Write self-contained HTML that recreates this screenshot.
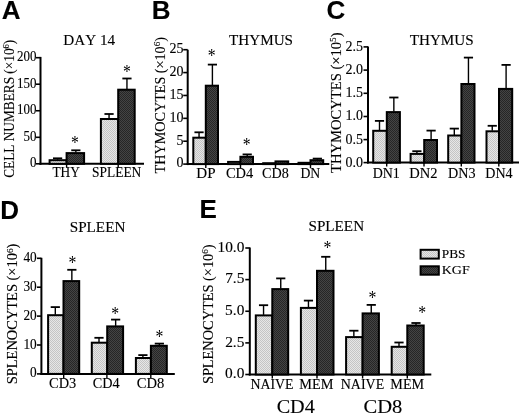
<!DOCTYPE html>
<html><head><meta charset="utf-8"><style>
html,body{margin:0;padding:0;background:#fff;width:520px;height:414px;overflow:hidden;font-family:"Liberation Serif",serif}
svg{display:block;will-change:transform}
text{stroke:#000;stroke-width:0.12px}
</style></head><body>
<svg width="520" height="414" viewBox="0 0 520 414" style="font-kerning:none">
<defs>
<pattern id="pl" width="2" height="2" patternUnits="userSpaceOnUse"><rect width="2" height="2" fill="#e6e6e6"/><rect width="1" height="1" fill="#c4c4c4"/><rect x="1" y="1" width="1" height="1" fill="#c4c4c4"/></pattern>
<pattern id="pd" width="2" height="2" patternUnits="userSpaceOnUse"><rect width="2" height="2" fill="#444444"/><rect width="1" height="1" fill="#262626"/><rect x="1" y="1" width="1" height="1" fill="#262626"/></pattern>
</defs>
<rect width="520" height="414" fill="#fff"/>
<text x="1.85" y="18.79" font-size="26" font-family='"Liberation Sans", sans-serif' font-weight="bold">A</text>
<text x="63.31" y="45.47" font-size="15.25" text-anchor="start" font-family='"Liberation Serif", serif' font-weight="normal" textLength="51.82" lengthAdjust="spacingAndGlyphs">DAY 14</text>
<line x1="40.5" y1="56.9" x2="40.5" y2="164.8" stroke="#000" stroke-width="2"/>
<line x1="36.0" y1="57.7" x2="40.5" y2="57.7" stroke="#000" stroke-width="1.6"/>
<text x="17.05" y="61.09" font-size="14" font-family='"Liberation Serif", serif' textLength="19.45" lengthAdjust="spacingAndGlyphs">200</text>
<line x1="36.0" y1="84.2" x2="40.5" y2="84.2" stroke="#000" stroke-width="1.6"/>
<text x="17.05" y="87.59" font-size="14" font-family='"Liberation Serif", serif' textLength="19.45" lengthAdjust="spacingAndGlyphs">150</text>
<line x1="36.0" y1="110.75" x2="40.5" y2="110.75" stroke="#000" stroke-width="1.6"/>
<text x="17.05" y="114.14" font-size="14" font-family='"Liberation Serif", serif' textLength="19.45" lengthAdjust="spacingAndGlyphs">100</text>
<line x1="36.0" y1="137.3" x2="40.5" y2="137.3" stroke="#000" stroke-width="1.6"/>
<text x="23.53" y="140.69" font-size="14" font-family='"Liberation Serif", serif' textLength="12.96" lengthAdjust="spacingAndGlyphs">50</text>
<line x1="36.0" y1="163.8" x2="40.5" y2="163.8" stroke="#000" stroke-width="1.6"/>
<text x="30.01" y="167.19" font-size="14" font-family='"Liberation Serif", serif' textLength="6.48" lengthAdjust="spacingAndGlyphs">0</text>
<line x1="39.5" y1="163.8" x2="144" y2="163.8" stroke="#000" stroke-width="2"/>
<line x1="66.6" y1="163.8" x2="66.6" y2="167.8" stroke="#000" stroke-width="1.4"/>
<line x1="118.2" y1="163.8" x2="118.2" y2="167.8" stroke="#000" stroke-width="1.4"/>
<line x1="57.599999999999994" y1="158.3" x2="57.599999999999994" y2="159.7" stroke="#000" stroke-width="1.4"/>
<line x1="52.99999999999999" y1="158.3" x2="62.199999999999996" y2="158.3" stroke="#000" stroke-width="1.8"/>
<line x1="75.85" y1="150.3" x2="75.85" y2="152.6" stroke="#000" stroke-width="1.4"/>
<line x1="71.25" y1="150.3" x2="80.44999999999999" y2="150.3" stroke="#000" stroke-width="1.8"/>
<rect x="49.6" y="160.2" width="17.00" height="3.60" fill="url(#pl)" stroke="#000" stroke-width="2"/>
<rect x="66.6" y="153.1" width="17.50" height="10.70" fill="url(#pd)" stroke="#000" stroke-width="2"/>
<line x1="109.05000000000001" y1="114" x2="109.05000000000001" y2="118.5" stroke="#000" stroke-width="1.4"/>
<line x1="104.45000000000002" y1="114" x2="113.65" y2="114" stroke="#000" stroke-width="1.8"/>
<line x1="126.94999999999999" y1="78.5" x2="126.94999999999999" y2="89.2" stroke="#000" stroke-width="1.4"/>
<line x1="122.35" y1="78.5" x2="131.54999999999998" y2="78.5" stroke="#000" stroke-width="1.8"/>
<rect x="100.9" y="119" width="17.30" height="44.80" fill="url(#pl)" stroke="#000" stroke-width="2"/>
<rect x="118.2" y="89.7" width="16.50" height="74.10" fill="url(#pd)" stroke="#000" stroke-width="2"/>
<text transform="translate(75.05,139.6) scale(0.9,1.06)" x="0" y="9.25" font-size="17.5" text-anchor="middle" font-family='"Liberation Serif", serif' style="stroke:none">*</text>
<text transform="translate(126.9,68.6) scale(0.9,1.06)" x="0" y="9.25" font-size="17.5" text-anchor="middle" font-family='"Liberation Serif", serif' style="stroke:none">*</text>
<text x="52.46" y="177.3" font-size="14.2" text-anchor="start" font-family='"Liberation Serif", serif' font-weight="normal" textLength="27.48" lengthAdjust="spacingAndGlyphs">THY</text>
<text x="92.1" y="177.16" font-size="13.84" text-anchor="start" font-family='"Liberation Serif", serif' font-weight="normal" textLength="49.21" lengthAdjust="spacingAndGlyphs">SPLEEN</text>
<text transform="translate(14.2,108.8) rotate(-90) scale(0.965,1)" x="0" y="0" font-size="13.8" text-anchor="middle" font-family='"Liberation Serif", serif'>CELL NUMBERS (&#215;10<tspan dy="-4.9" font-size="8.8">6</tspan><tspan dy="4.9">)</tspan></text>
<text x="151.66" y="19.39" font-size="26" font-family='"Liberation Sans", sans-serif' font-weight="bold">B</text>
<text x="229.03" y="44.86" font-size="14.59" text-anchor="start" font-family='"Liberation Serif", serif' font-weight="normal" textLength="64.01" lengthAdjust="spacingAndGlyphs">THYMUS</text>
<line x1="187.7" y1="49.7" x2="187.7" y2="165.1" stroke="#000" stroke-width="2"/>
<line x1="183.2" y1="49.7" x2="187.7" y2="49.7" stroke="#000" stroke-width="1.6"/>
<text x="169.55" y="53.07" font-size="14" font-family='"Liberation Serif", serif' textLength="14.00" lengthAdjust="spacingAndGlyphs">25</text>
<line x1="183.2" y1="72.58" x2="187.7" y2="72.58" stroke="#000" stroke-width="1.6"/>
<text x="169.53" y="75.97" font-size="14" font-family='"Liberation Serif", serif' textLength="14.00" lengthAdjust="spacingAndGlyphs">20</text>
<line x1="183.2" y1="95.46" x2="187.7" y2="95.46" stroke="#000" stroke-width="1.6"/>
<text x="169.55" y="98.81" font-size="14" font-family='"Liberation Serif", serif' textLength="14.00" lengthAdjust="spacingAndGlyphs">15</text>
<line x1="183.2" y1="118.34" x2="187.7" y2="118.34" stroke="#000" stroke-width="1.6"/>
<text x="169.53" y="121.73" font-size="14" font-family='"Liberation Serif", serif' textLength="14.00" lengthAdjust="spacingAndGlyphs">10</text>
<line x1="183.2" y1="141.22" x2="187.7" y2="141.22" stroke="#000" stroke-width="1.6"/>
<text x="176.55" y="144.54" font-size="14" font-family='"Liberation Serif", serif' textLength="7.00" lengthAdjust="spacingAndGlyphs">5</text>
<line x1="183.2" y1="164.1" x2="187.7" y2="164.1" stroke="#000" stroke-width="1.6"/>
<text x="176.53" y="167.49" font-size="14" font-family='"Liberation Serif", serif' textLength="7.00" lengthAdjust="spacingAndGlyphs">0</text>
<line x1="186.7" y1="164.1" x2="329.3" y2="164.1" stroke="#000" stroke-width="2"/>
<line x1="205.8" y1="164.1" x2="205.8" y2="168.1" stroke="#000" stroke-width="1.4"/>
<line x1="240.5" y1="164.1" x2="240.5" y2="168.1" stroke="#000" stroke-width="1.4"/>
<line x1="275.5" y1="164.1" x2="275.5" y2="168.1" stroke="#000" stroke-width="1.4"/>
<line x1="310.5" y1="164.1" x2="310.5" y2="168.1" stroke="#000" stroke-width="1.4"/>
<line x1="199.05" y1="132.3" x2="199.05" y2="137.2" stroke="#000" stroke-width="1.4"/>
<line x1="194.45000000000002" y1="132.3" x2="203.65" y2="132.3" stroke="#000" stroke-width="1.8"/>
<line x1="212.4" y1="64.6" x2="212.4" y2="85.2" stroke="#000" stroke-width="1.4"/>
<line x1="207.8" y1="64.6" x2="217.0" y2="64.6" stroke="#000" stroke-width="1.8"/>
<rect x="193.3" y="137.7" width="12.50" height="26.40" fill="url(#pl)" stroke="#000" stroke-width="2"/>
<rect x="205.8" y="85.7" width="12.20" height="78.40" fill="url(#pd)" stroke="#000" stroke-width="2"/>
<line x1="247.2" y1="154.4" x2="247.2" y2="156.3" stroke="#000" stroke-width="1.4"/>
<line x1="242.6" y1="154.4" x2="251.79999999999998" y2="154.4" stroke="#000" stroke-width="1.8"/>
<rect x="228.1" y="161.9" width="12.30" height="2.20" fill="url(#pl)" stroke="#000" stroke-width="2"/>
<rect x="240.4" y="156.8" width="12.60" height="7.30" fill="url(#pd)" stroke="#000" stroke-width="2"/>
<rect x="263.2" y="163.2" width="12.30" height="0.90" fill="url(#pl)" stroke="#000" stroke-width="2"/>
<rect x="275.5" y="161.4" width="12.70" height="2.70" fill="url(#pd)" stroke="#000" stroke-width="2"/>
<line x1="317.35" y1="158.6" x2="317.35" y2="159.7" stroke="#000" stroke-width="1.4"/>
<line x1="312.75" y1="158.6" x2="321.95000000000005" y2="158.6" stroke="#000" stroke-width="1.8"/>
<rect x="298.5" y="162.8" width="12.00" height="1.30" fill="url(#pl)" stroke="#000" stroke-width="2"/>
<rect x="310.5" y="160.2" width="12.70" height="3.90" fill="url(#pd)" stroke="#000" stroke-width="2"/>
<text transform="translate(211.6,52.4) scale(0.9,1.06)" x="0" y="9.25" font-size="17.5" text-anchor="middle" font-family='"Liberation Serif", serif' style="stroke:none">*</text>
<text transform="translate(246.8,140.9) scale(0.9,1.06)" x="0" y="9.25" font-size="17.5" text-anchor="middle" font-family='"Liberation Serif", serif' style="stroke:none">*</text>
<text x="196.27" y="177.87" font-size="14.31" text-anchor="start" font-family='"Liberation Serif", serif' font-weight="normal" textLength="19.24" lengthAdjust="spacingAndGlyphs">DP</text>
<text x="226.01" y="177.76" font-size="13.99" text-anchor="start" font-family='"Liberation Serif", serif' font-weight="normal" textLength="27.22" lengthAdjust="spacingAndGlyphs">CD4</text>
<text x="262.12" y="177.76" font-size="13.93" text-anchor="start" font-family='"Liberation Serif", serif' font-weight="normal" textLength="26.72" lengthAdjust="spacingAndGlyphs">CD8</text>
<text x="300.4" y="177.87" font-size="14.31" text-anchor="start" font-family='"Liberation Serif", serif' font-weight="normal" textLength="19.81" lengthAdjust="spacingAndGlyphs">DN</text>
<text transform="translate(165.1,105.25) rotate(-90) scale(1.026,1)" x="0" y="0" font-size="13.8" text-anchor="middle" font-family='"Liberation Serif", serif'>THYMOCYTES (&#215;10<tspan dy="-4.9" font-size="8.8">6</tspan><tspan dy="4.9">)</tspan></text>
<text x="326.46" y="19.09" font-size="26" font-family='"Liberation Sans", sans-serif' font-weight="bold">C</text>
<text x="409.73" y="44.86" font-size="14.59" text-anchor="start" font-family='"Liberation Serif", serif' font-weight="normal" textLength="64.01" lengthAdjust="spacingAndGlyphs">THYMUS</text>
<line x1="368.0" y1="46.4" x2="368.0" y2="163.6" stroke="#000" stroke-width="2"/>
<line x1="363.5" y1="46.9" x2="368.0" y2="46.9" stroke="#000" stroke-width="1.6"/>
<text x="345.44" y="50.81" font-size="13.6" font-family='"Liberation Serif", serif' textLength="17.51" lengthAdjust="spacingAndGlyphs">2.5</text>
<line x1="363.5" y1="70.1" x2="368.0" y2="70.1" stroke="#000" stroke-width="1.6"/>
<text x="345.42" y="74.03" font-size="13.6" font-family='"Liberation Serif", serif' textLength="17.51" lengthAdjust="spacingAndGlyphs">2.0</text>
<line x1="363.5" y1="93.3" x2="368.0" y2="93.3" stroke="#000" stroke-width="1.6"/>
<text x="345.44" y="97.19" font-size="13.6" font-family='"Liberation Serif", serif' textLength="17.51" lengthAdjust="spacingAndGlyphs">1.5</text>
<line x1="363.5" y1="116.5" x2="368.0" y2="116.5" stroke="#000" stroke-width="1.6"/>
<text x="345.42" y="120.43" font-size="13.6" font-family='"Liberation Serif", serif' textLength="17.51" lengthAdjust="spacingAndGlyphs">1.0</text>
<line x1="363.5" y1="139.6" x2="368.0" y2="139.6" stroke="#000" stroke-width="1.6"/>
<text x="345.44" y="143.53" font-size="13.6" font-family='"Liberation Serif", serif' textLength="17.51" lengthAdjust="spacingAndGlyphs">0.5</text>
<line x1="363.5" y1="162.6" x2="368.0" y2="162.6" stroke="#000" stroke-width="1.6"/>
<text x="345.42" y="166.53" font-size="13.6" font-family='"Liberation Serif", serif' textLength="17.51" lengthAdjust="spacingAndGlyphs">0.0</text>
<line x1="367" y1="162.6" x2="519" y2="162.6" stroke="#000" stroke-width="2"/>
<line x1="386.7" y1="162.6" x2="386.7" y2="166.6" stroke="#000" stroke-width="1.4"/>
<line x1="424" y1="162.6" x2="424" y2="166.6" stroke="#000" stroke-width="1.4"/>
<line x1="461.3" y1="162.6" x2="461.3" y2="166.6" stroke="#000" stroke-width="1.4"/>
<line x1="498.8" y1="162.6" x2="498.8" y2="166.6" stroke="#000" stroke-width="1.4"/>
<line x1="379.5" y1="120.9" x2="379.5" y2="130.3" stroke="#000" stroke-width="1.4"/>
<line x1="374.9" y1="120.9" x2="384.1" y2="120.9" stroke="#000" stroke-width="1.8"/>
<line x1="393.85" y1="97.5" x2="393.85" y2="111.6" stroke="#000" stroke-width="1.4"/>
<line x1="389.25" y1="97.5" x2="398.45000000000005" y2="97.5" stroke="#000" stroke-width="1.8"/>
<rect x="373.2" y="130.8" width="13.60" height="31.80" fill="url(#pl)" stroke="#000" stroke-width="2"/>
<rect x="386.8" y="112.1" width="13.10" height="50.50" fill="url(#pd)" stroke="#000" stroke-width="2"/>
<line x1="416.9" y1="151.2" x2="416.9" y2="153.4" stroke="#000" stroke-width="1.4"/>
<line x1="412.29999999999995" y1="151.2" x2="421.5" y2="151.2" stroke="#000" stroke-width="1.8"/>
<line x1="431.1" y1="130.6" x2="431.1" y2="139.5" stroke="#000" stroke-width="1.4"/>
<line x1="426.5" y1="130.6" x2="435.70000000000005" y2="130.6" stroke="#000" stroke-width="1.8"/>
<rect x="410.6" y="153.9" width="13.60" height="8.70" fill="url(#pl)" stroke="#000" stroke-width="2"/>
<rect x="424.2" y="140" width="12.80" height="22.60" fill="url(#pd)" stroke="#000" stroke-width="2"/>
<line x1="454.29999999999995" y1="128.6" x2="454.29999999999995" y2="135.0" stroke="#000" stroke-width="1.4"/>
<line x1="449.69999999999993" y1="128.6" x2="458.9" y2="128.6" stroke="#000" stroke-width="1.8"/>
<line x1="468.45" y1="57.6" x2="468.45" y2="83.5" stroke="#000" stroke-width="1.4"/>
<line x1="463.84999999999997" y1="57.6" x2="473.05" y2="57.6" stroke="#000" stroke-width="1.8"/>
<rect x="448.2" y="135.5" width="13.20" height="27.10" fill="url(#pl)" stroke="#000" stroke-width="2"/>
<rect x="461.4" y="84" width="13.10" height="78.60" fill="url(#pd)" stroke="#000" stroke-width="2"/>
<line x1="492.25" y1="125.8" x2="492.25" y2="130.8" stroke="#000" stroke-width="1.4"/>
<line x1="487.65" y1="125.8" x2="496.85" y2="125.8" stroke="#000" stroke-width="1.8"/>
<line x1="506.1" y1="64.9" x2="506.1" y2="88.4" stroke="#000" stroke-width="1.4"/>
<line x1="501.5" y1="64.9" x2="510.70000000000005" y2="64.9" stroke="#000" stroke-width="1.8"/>
<rect x="486.5" y="131.3" width="12.50" height="31.30" fill="url(#pl)" stroke="#000" stroke-width="2"/>
<rect x="499" y="88.9" width="13.20" height="73.70" fill="url(#pd)" stroke="#000" stroke-width="2"/>
<text x="372.7" y="177.77" font-size="14.8" text-anchor="start" font-family='"Liberation Serif", serif' font-weight="normal" textLength="27.14" lengthAdjust="spacingAndGlyphs">DN1</text>
<text x="409.28" y="177.77" font-size="14.76" text-anchor="start" font-family='"Liberation Serif", serif' font-weight="normal" textLength="28.22" lengthAdjust="spacingAndGlyphs">DN2</text>
<text x="447.99" y="177.66" font-size="14.59" text-anchor="start" font-family='"Liberation Serif", serif' font-weight="normal" textLength="27.56" lengthAdjust="spacingAndGlyphs">DN3</text>
<text x="485.3" y="177.77" font-size="14.84" text-anchor="start" font-family='"Liberation Serif", serif' font-weight="normal" textLength="27.32" lengthAdjust="spacingAndGlyphs">DN4</text>
<text transform="translate(341.2,102.7) rotate(-90) scale(1.059,1)" x="0" y="0" font-size="13.8" text-anchor="middle" font-family='"Liberation Serif", serif'>THYMOCYTES (&#215;10<tspan dy="-4.9" font-size="8.8">5</tspan><tspan dy="4.9">)</tspan></text>
<text x="0.36" y="218.89" font-size="26" font-family='"Liberation Sans", sans-serif' font-weight="bold">D</text>
<text x="69.74" y="231.85" font-size="14.88" text-anchor="start" font-family='"Liberation Serif", serif' font-weight="normal" textLength="55.61" lengthAdjust="spacingAndGlyphs">SPLEEN</text>
<line x1="41.4" y1="257.8" x2="41.4" y2="374.9" stroke="#000" stroke-width="2"/>
<line x1="36.9" y1="258.3" x2="41.4" y2="258.3" stroke="#000" stroke-width="1.6"/>
<text x="23.41" y="261.89" font-size="14" font-family='"Liberation Serif", serif' textLength="13.30" lengthAdjust="spacingAndGlyphs">40</text>
<line x1="36.9" y1="287.2" x2="41.4" y2="287.2" stroke="#000" stroke-width="1.6"/>
<text x="23.41" y="290.79" font-size="14" font-family='"Liberation Serif", serif' textLength="13.30" lengthAdjust="spacingAndGlyphs">30</text>
<line x1="36.9" y1="316.1" x2="41.4" y2="316.1" stroke="#000" stroke-width="1.6"/>
<text x="23.41" y="319.69" font-size="14" font-family='"Liberation Serif", serif' textLength="13.30" lengthAdjust="spacingAndGlyphs">20</text>
<line x1="36.9" y1="345" x2="41.4" y2="345" stroke="#000" stroke-width="1.6"/>
<text x="23.41" y="348.59" font-size="14" font-family='"Liberation Serif", serif' textLength="13.30" lengthAdjust="spacingAndGlyphs">10</text>
<line x1="36.9" y1="373.9" x2="41.4" y2="373.9" stroke="#000" stroke-width="1.6"/>
<text x="30.06" y="377.49" font-size="14" font-family='"Liberation Serif", serif' textLength="6.65" lengthAdjust="spacingAndGlyphs">0</text>
<line x1="40.4" y1="373.9" x2="174.8" y2="373.9" stroke="#000" stroke-width="2"/>
<line x1="63.7" y1="373.9" x2="63.7" y2="377.9" stroke="#000" stroke-width="1.4"/>
<line x1="106.9" y1="373.9" x2="106.9" y2="377.9" stroke="#000" stroke-width="1.4"/>
<line x1="150.8" y1="373.9" x2="150.8" y2="377.9" stroke="#000" stroke-width="1.4"/>
<line x1="55.3" y1="307.1" x2="55.3" y2="314.7" stroke="#000" stroke-width="1.4"/>
<line x1="50.699999999999996" y1="307.1" x2="59.9" y2="307.1" stroke="#000" stroke-width="1.8"/>
<line x1="71.85" y1="269.8" x2="71.85" y2="280.6" stroke="#000" stroke-width="1.4"/>
<line x1="67.25" y1="269.8" x2="76.44999999999999" y2="269.8" stroke="#000" stroke-width="1.8"/>
<rect x="48.1" y="315.2" width="15.40" height="58.70" fill="url(#pl)" stroke="#000" stroke-width="2"/>
<rect x="63.5" y="281.1" width="15.70" height="92.80" fill="url(#pd)" stroke="#000" stroke-width="2"/>
<line x1="99.0" y1="337.8" x2="99.0" y2="342.2" stroke="#000" stroke-width="1.4"/>
<line x1="94.4" y1="337.8" x2="103.6" y2="337.8" stroke="#000" stroke-width="1.8"/>
<line x1="115.65" y1="319.6" x2="115.65" y2="325.9" stroke="#000" stroke-width="1.4"/>
<line x1="111.05000000000001" y1="319.6" x2="120.25" y2="319.6" stroke="#000" stroke-width="1.8"/>
<rect x="91.8" y="342.7" width="15.40" height="31.20" fill="url(#pl)" stroke="#000" stroke-width="2"/>
<rect x="107.2" y="326.4" width="15.90" height="47.50" fill="url(#pd)" stroke="#000" stroke-width="2"/>
<line x1="142.9" y1="355.1" x2="142.9" y2="357.5" stroke="#000" stroke-width="1.4"/>
<line x1="138.3" y1="355.1" x2="147.5" y2="355.1" stroke="#000" stroke-width="1.8"/>
<line x1="159.35000000000002" y1="343.6" x2="159.35000000000002" y2="345.3" stroke="#000" stroke-width="1.4"/>
<line x1="154.75000000000003" y1="343.6" x2="163.95000000000002" y2="343.6" stroke="#000" stroke-width="1.8"/>
<rect x="135.9" y="358" width="15.00" height="15.90" fill="url(#pl)" stroke="#000" stroke-width="2"/>
<rect x="150.9" y="345.8" width="15.90" height="28.10" fill="url(#pd)" stroke="#000" stroke-width="2"/>
<text transform="translate(72.4,259.5) scale(0.9,1.06)" x="0" y="9.25" font-size="17.5" text-anchor="middle" font-family='"Liberation Serif", serif' style="stroke:none">*</text>
<text transform="translate(115.2,310.4) scale(0.9,1.06)" x="0" y="9.25" font-size="17.5" text-anchor="middle" font-family='"Liberation Serif", serif' style="stroke:none">*</text>
<text transform="translate(159.4,333.5) scale(0.9,1.06)" x="0" y="9.25" font-size="17.5" text-anchor="middle" font-family='"Liberation Serif", serif' style="stroke:none">*</text>
<text x="49.11" y="388.36" font-size="14.59" text-anchor="start" font-family='"Liberation Serif", serif' font-weight="normal" textLength="27.15" lengthAdjust="spacingAndGlyphs">CD3</text>
<text x="92.82" y="388.36" font-size="14.59" text-anchor="start" font-family='"Liberation Serif", serif' font-weight="normal" textLength="26.91" lengthAdjust="spacingAndGlyphs">CD4</text>
<text x="136.8" y="388.36" font-size="14.52" text-anchor="start" font-family='"Liberation Serif", serif' font-weight="normal" textLength="27.55" lengthAdjust="spacingAndGlyphs">CD8</text>
<text transform="translate(17.4,313.95) rotate(-90) scale(1.047,1)" x="0" y="0" font-size="13.8" text-anchor="middle" font-family='"Liberation Serif", serif'>SPLENOCYTES (&#215;10<tspan dy="-4.9" font-size="8.8">6</tspan><tspan dy="4.9">)</tspan></text>
<text x="199.56" y="218.29" font-size="26" font-family='"Liberation Sans", sans-serif' font-weight="bold">E</text>
<text x="308.49" y="231.16" font-size="13.84" text-anchor="start" font-family='"Liberation Serif", serif' font-weight="normal" textLength="55.61" lengthAdjust="spacingAndGlyphs">SPLEEN</text>
<line x1="249.8" y1="247.5" x2="249.8" y2="375.5" stroke="#000" stroke-width="2"/>
<line x1="245.3" y1="248" x2="249.8" y2="248" stroke="#000" stroke-width="1.6"/>
<text x="217.44" y="251.76" font-size="14" font-family='"Liberation Serif", serif' textLength="26.95" lengthAdjust="spacingAndGlyphs">10.0</text>
<line x1="245.3" y1="279.6" x2="249.8" y2="279.6" stroke="#000" stroke-width="1.6"/>
<text x="225.15" y="283.28" font-size="14" font-family='"Liberation Serif", serif' textLength="19.25" lengthAdjust="spacingAndGlyphs">7.5</text>
<line x1="245.3" y1="311.25" x2="249.8" y2="311.25" stroke="#000" stroke-width="1.6"/>
<text x="225.14" y="315.01" font-size="14" font-family='"Liberation Serif", serif' textLength="19.25" lengthAdjust="spacingAndGlyphs">5.0</text>
<line x1="245.3" y1="342.9" x2="249.8" y2="342.9" stroke="#000" stroke-width="1.6"/>
<text x="225.15" y="346.64" font-size="14" font-family='"Liberation Serif", serif' textLength="19.25" lengthAdjust="spacingAndGlyphs">2.5</text>
<line x1="245.3" y1="374.5" x2="249.8" y2="374.5" stroke="#000" stroke-width="1.6"/>
<text x="225.14" y="378.26" font-size="14" font-family='"Liberation Serif", serif' textLength="19.25" lengthAdjust="spacingAndGlyphs">0.0</text>
<line x1="248.8" y1="374.5" x2="431.3" y2="374.5" stroke="#000" stroke-width="2"/>
<line x1="272.3" y1="374.5" x2="272.3" y2="378.5" stroke="#000" stroke-width="1.4"/>
<line x1="317" y1="374.5" x2="317" y2="378.5" stroke="#000" stroke-width="1.4"/>
<line x1="362.6" y1="374.5" x2="362.6" y2="378.5" stroke="#000" stroke-width="1.4"/>
<line x1="407.3" y1="374.5" x2="407.3" y2="378.5" stroke="#000" stroke-width="1.4"/>
<line x1="263.55" y1="305.2" x2="263.55" y2="314.9" stroke="#000" stroke-width="1.4"/>
<line x1="258.95" y1="305.2" x2="268.15000000000003" y2="305.2" stroke="#000" stroke-width="1.8"/>
<line x1="280.75" y1="278.4" x2="280.75" y2="288.6" stroke="#000" stroke-width="1.4"/>
<line x1="276.15" y1="278.4" x2="285.35" y2="278.4" stroke="#000" stroke-width="1.8"/>
<rect x="255.8" y="315.4" width="16.50" height="59.10" fill="url(#pl)" stroke="#000" stroke-width="2"/>
<rect x="272.3" y="289.1" width="15.90" height="85.40" fill="url(#pd)" stroke="#000" stroke-width="2"/>
<line x1="308.45" y1="300.6" x2="308.45" y2="307.4" stroke="#000" stroke-width="1.4"/>
<line x1="303.84999999999997" y1="300.6" x2="313.05" y2="300.6" stroke="#000" stroke-width="1.8"/>
<line x1="325.75" y1="256.8" x2="325.75" y2="270.3" stroke="#000" stroke-width="1.4"/>
<line x1="321.15" y1="256.8" x2="330.35" y2="256.8" stroke="#000" stroke-width="1.8"/>
<rect x="300.9" y="307.9" width="16.10" height="66.60" fill="url(#pl)" stroke="#000" stroke-width="2"/>
<rect x="317" y="270.8" width="16.50" height="103.70" fill="url(#pd)" stroke="#000" stroke-width="2"/>
<line x1="353.85" y1="330.7" x2="353.85" y2="336.6" stroke="#000" stroke-width="1.4"/>
<line x1="349.25" y1="330.7" x2="358.45000000000005" y2="330.7" stroke="#000" stroke-width="1.8"/>
<line x1="371.25" y1="304.9" x2="371.25" y2="312.9" stroke="#000" stroke-width="1.4"/>
<line x1="366.65" y1="304.9" x2="375.85" y2="304.9" stroke="#000" stroke-width="1.8"/>
<rect x="346.1" y="337.1" width="16.50" height="37.40" fill="url(#pl)" stroke="#000" stroke-width="2"/>
<rect x="362.6" y="313.4" width="16.30" height="61.10" fill="url(#pd)" stroke="#000" stroke-width="2"/>
<line x1="399.0" y1="342.5" x2="399.0" y2="346.3" stroke="#000" stroke-width="1.4"/>
<line x1="394.4" y1="342.5" x2="403.6" y2="342.5" stroke="#000" stroke-width="1.8"/>
<line x1="416.0" y1="323" x2="416.0" y2="325.0" stroke="#000" stroke-width="1.4"/>
<line x1="411.4" y1="323" x2="420.6" y2="323" stroke="#000" stroke-width="1.8"/>
<rect x="391.7" y="346.8" width="15.60" height="27.70" fill="url(#pl)" stroke="#000" stroke-width="2"/>
<rect x="407.3" y="325.5" width="16.40" height="49.00" fill="url(#pd)" stroke="#000" stroke-width="2"/>
<text transform="translate(327.4,244) scale(0.9,1.06)" x="0" y="9.25" font-size="17.5" text-anchor="middle" font-family='"Liberation Serif", serif' style="stroke:none">*</text>
<text transform="translate(372.5,293.9) scale(0.9,1.06)" x="0" y="9.25" font-size="17.5" text-anchor="middle" font-family='"Liberation Serif", serif' style="stroke:none">*</text>
<text transform="translate(422.2,309.2) scale(0.9,1.06)" x="0" y="9.25" font-size="17.5" text-anchor="middle" font-family='"Liberation Serif", serif' style="stroke:none">*</text>
<text x="250.5" y="389.19" font-size="13.62" text-anchor="start" font-family='"Liberation Serif", serif' font-weight="normal" textLength="43.09" lengthAdjust="spacingAndGlyphs">NAIVE</text>
<text x="299.39" y="389.4" font-size="14.05" text-anchor="start" font-family='"Liberation Serif", serif' font-weight="normal" textLength="34.13" lengthAdjust="spacingAndGlyphs">MEM</text>
<text x="340.8" y="389.19" font-size="13.62" text-anchor="start" font-family='"Liberation Serif", serif' font-weight="normal" textLength="43.4" lengthAdjust="spacingAndGlyphs">NAIVE</text>
<text x="390.39" y="389.4" font-size="14.05" text-anchor="start" font-family='"Liberation Serif", serif' font-weight="normal" textLength="33.82" lengthAdjust="spacingAndGlyphs">MEM</text>
<text x="276.67" y="412.81" font-size="19.35" text-anchor="start" font-family='"Liberation Serif", serif' font-weight="normal" textLength="38.14" lengthAdjust="spacingAndGlyphs">CD4</text>
<text x="363.46" y="412.81" font-size="19.26" text-anchor="start" font-family='"Liberation Serif", serif' font-weight="normal" textLength="38.83" lengthAdjust="spacingAndGlyphs">CD8</text>
<text transform="translate(213,314.25) rotate(-90) scale(1.04,1)" x="0" y="0" font-size="13.8" text-anchor="middle" font-family='"Liberation Serif", serif'>SPLENOCYTES (&#215;10<tspan dy="-4.9" font-size="8.8">6</tspan><tspan dy="4.9">)</tspan></text>
<rect x="420.6" y="249.8" width="18.2" height="8.8" fill="url(#pl)" stroke="#000" stroke-width="2"/>
<rect x="420.6" y="266.3" width="18.2" height="8.4" fill="url(#pd)" stroke="#000" stroke-width="2"/>
<text x="441.72" y="257.97" font-size="13.25" text-anchor="start" font-family='"Liberation Serif", serif' font-weight="normal" textLength="23.71" lengthAdjust="spacingAndGlyphs">PBS</text>
<text x="441.7" y="274.47" font-size="13.25" text-anchor="start" font-family='"Liberation Serif", serif' font-weight="normal" textLength="28.01" lengthAdjust="spacingAndGlyphs">KGF</text>
</svg>
</body></html>
